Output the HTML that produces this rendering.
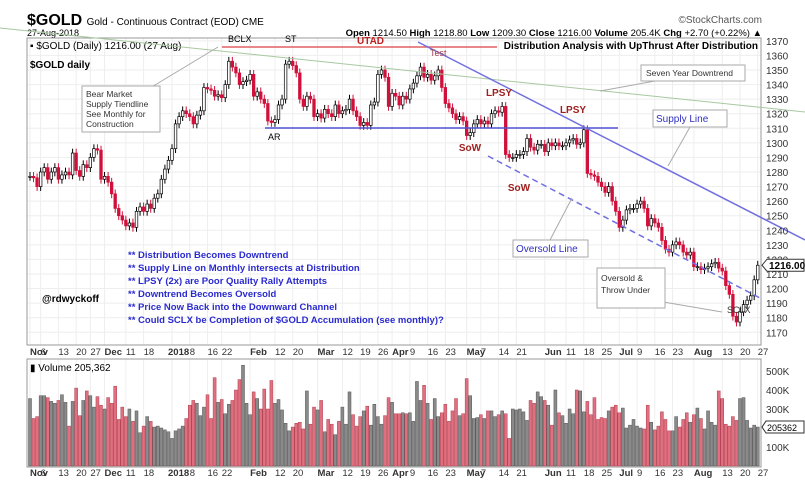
<!DOCTYPE html>
<html><head><meta charset="utf-8"><style>
html,body{margin:0;padding:0;background:#fff}
svg{display:block;font-family:"Liberation Sans",sans-serif}
</style></head><body>
<svg id="c" width="805" height="495" viewBox="0 0 805 495" xmlns="http://www.w3.org/2000/svg">
<rect width="805" height="495" fill="#fff"/>
<g>
<text x="27" y="25" font-size="16" font-weight="bold">$GOLD <tspan font-size="10" font-weight="normal">Gold - Continuous Contract (EOD) CME</tspan></text>
<text x="762" y="23" font-size="10" fill="#555" text-anchor="end">©StockCharts.com</text>
<text x="27" y="36" font-size="9">27-Aug-2018</text>
<text x="762" y="36" font-size="9.5" text-anchor="end"><tspan font-weight="bold">Open</tspan> 1214.50 <tspan font-weight="bold">High</tspan> 1218.80 <tspan font-weight="bold">Low</tspan> 1209.30 <tspan font-weight="bold">Close</tspan> 1216.00 <tspan font-weight="bold">Volume</tspan> 205.4K <tspan font-weight="bold">Chg</tspan> +2.70 (+0.22%) ▲</text>
</g>
<g id="grid"></g>
<g id="marks"></g>
<g id="ann">
<rect x="27" y="38" width="734" height="307" fill="none" stroke="#999"/>
<rect x="27" y="359" width="734" height="108" fill="none" stroke="#999"/>
<text x="30" y="49" font-size="10">▪ $GOLD (Daily) 1216.00 (27 Aug)</text>
<text x="30" y="68" font-size="10" font-weight="bold">$GOLD daily</text>
<text x="758" y="49" font-size="10" font-weight="bold" text-anchor="end">Distribution Analysis with UpThrust After Distribution</text>
<line x1="222" y1="47" x2="497" y2="47" stroke="#e06060" stroke-width="1.5"/>
<line x1="265" y1="128" x2="618" y2="128" stroke="#5050d0" stroke-width="1.5"/>
<line x1="0" y1="28" x2="805" y2="112" stroke="#a8c8a0" stroke-width="1"/>
<line x1="418" y1="42" x2="805" y2="240" stroke="#7070e0" stroke-width="1.5"/>
<line x1="488" y1="156" x2="760" y2="298" stroke="#7070e0" stroke-width="1.5" stroke-dasharray="6,4"/>
<text x="228" y="42" font-size="9">BCLX</text>
<text x="285" y="42" font-size="9">ST</text>
<text x="357" y="44" font-size="10" font-weight="bold" fill="#c02020">UTAD</text>
<text x="430" y="56" font-size="9" fill="#a04050">Test</text>
<text x="268" y="140" font-size="9">AR</text>
<g font-size="10" font-weight="bold" fill="#a02020">
<text x="499" y="96" text-anchor="middle">LPSY</text>
<text x="573" y="113" text-anchor="middle">LPSY</text>
<text x="470" y="151" text-anchor="middle">SoW</text>
<text x="519" y="191" text-anchor="middle">SoW</text>
</g>
<g stroke="#aaa" fill="none">
<polyline points="150,88 218,47"/>
<polyline points="655,81 600,91"/>
<polyline points="690,127 668,166"/>
<polyline points="550,240 572,198"/>
<polyline points="615,268 658,280"/>
<polyline points="640,298 722,312"/>
</g>
<g font-size="8.5" fill="#333">
<rect x="82" y="86" width="78" height="46" fill="#fff" stroke="#aaa"/>
<text x="86" y="97">Bear Market</text><text x="86" y="107">Supply Tiendline</text><text x="86" y="117">See Monthly for</text><text x="86" y="127">Construction</text>
<rect x="641" y="65" width="104" height="16" fill="#fff" stroke="#aaa"/>
<text x="646" y="76">Seven Year Downtrend</text>
<rect x="597" y="268" width="68" height="40" fill="#fff" stroke="#aaa"/>
<text x="601" y="281">Oversold &amp;</text><text x="601" y="293">Throw Under</text>
<text x="727" y="313" font-size="9">SCLX</text>
</g>
<g font-size="10" fill="#3030c0">
<rect x="653" y="110" width="74" height="17" fill="#fff" stroke="#aaa"/>
<text x="656" y="122">Supply Line</text>
<rect x="513" y="240" width="75" height="17" fill="#fff" stroke="#aaa"/>
<text x="516" y="252">Oversold Line</text>
</g>
<g font-size="9.5" font-weight="bold" fill="#2a2ad0">
<text x="128" y="258">** Distribution Becomes Downtrend</text>
<text x="128" y="271">** Supply Line on Monthly intersects at Distribution</text>
<text x="128" y="284">** LPSY (2x) are Poor Quality Rally Attempts</text>
<text x="128" y="297">** Downtrend Becomes Oversold</text>
<text x="128" y="310">** Price Now Back into the Downward Channel</text>
<text x="128" y="323">** Could SCLX be Completion of $GOLD Accumulation (see monthly)?</text>
</g>
<text x="42" y="302" font-size="10" font-weight="bold">@rdwyckoff</text>
<text x="30" y="371" font-size="10">▮ Volume 205,362</text>
</g>
<g id="axes"></g>
</svg>
<script>
const closes = [
1277,1276,1270,1280,1283,1275,1280,1283,1275,1278,1280,1278,1293,1281,1277,1285,1283,1290,1296,1295,1275,
1277,1273,1265,1255,1250,1247,1243,1245,1242,1253,1256,1253,1258,1255,1262,1265,1275,1282,1288,1296,
1313,1318,1322,1320,1318,1313,1319,1322,1338,1337,1336,1332,1333,1331,1340,1356,1352,1348,1340,1342,1343,
1347,1332,1335,1330,1327,1315,1314,1316,1326,1330,1354,1356,1353,1348,1330,1325,1332,1330,1318,
1320,1317,1323,1320,1318,1326,1320,1322,1323,1330,1322,1318,1312,1314,1312,1326,1328,1347,1350,1345,1325,
1334,1332,1326,1332,1330,1337,1341,1346,1352,1345,1347,1343,1346,1350,1338,1327,1324,1320,1316,1318,1315,
1305,1307,1313,1316,1313,1315,1313,1320,1322,1321,1325,1292,1290,1290,1292,1292,1294,1303,1297,1295,1299,1299,
1294,1300,1298,1300,1298,1298,1300,1302,1303,1299,1300,1309,1279,1278,1277,1273,1270,1266,1270,1260,1253,
1242,1247,1254,1255,1255,1258,1260,1255,1243,1248,1245,1242,1233,1227,1225,1230,1232,1230,1225,1223,1225,
1215,1215,1213,1214,1215,1217,1218,1214,1212,1202,1196,1181,1177,1184,1189,1192,1195,1206,1216];
const volumes = [
355,250,260,370,370,360,340,330,345,375,335,210,340,410,265,345,395,370,310,365,320,
300,360,330,420,245,310,260,300,235,290,175,210,260,235,205,210,200,190,180,145,
185,195,210,250,320,345,330,265,310,375,250,465,335,350,275,325,345,400,455,530,330,
270,390,355,300,405,300,450,330,350,295,225,185,205,225,230,195,395,220,310,
295,345,180,245,220,165,235,310,220,390,270,210,260,290,315,215,325,260,220,265,360,
335,275,275,280,275,280,235,445,345,425,330,245,355,260,280,325,235,290,355,265,275,
460,370,250,255,270,250,290,290,260,270,290,275,145,300,295,300,285,240,345,330,390,365,
345,320,215,400,280,265,225,300,275,400,395,285,340,270,360,245,255,250,290,310,320,
280,305,200,215,245,210,200,195,320,230,190,210,285,245,185,185,260,205,245,280,230,
270,305,250,195,290,230,215,395,355,220,210,260,240,355,360,240,200,215,205];
const priceTicks = [1170,1180,1190,1200,1210,1220,1230,1240,1250,1260,1270,1280,1290,1300,1310,1320,1330,1340,1350,1360,1370];
const volTicks = [100,200,300,400,500];
const volTickLabels = ["100K","","300K","400K","500K"];
const dateLabels = ["Nov","6","13","20","27","Dec","11","18","2018","8","16","22","Feb","12","20","Mar","12","19","26","Apr","9","16","23","May","7","14","21","Jun","11","18","25","Jul","9","16","23","Aug","13","20","27"];
const dateIdx = [0,3,8,13,17,21,27,32,40,45,50,54,62,69,74,81,88,93,98,102,107,112,117,123,127,132,137,145,151,156,161,166,171,176,181,187,195,200,205];
const dateBold = [1,0,0,0,0,1,0,0,1,0,0,0,1,0,0,1,0,0,0,1,0,0,0,1,0,0,0,1,0,0,0,1,0,0,0,1,0,0,0];

const NS="http://www.w3.org/2000/svg";
const xS=i=>30+i*3.55;
const yP=v=>70+(1350-v)*1.457;
const yV=v=>466-v*0.19;
function mk(tag,attrs,parent,txt){const e=document.createElementNS(NS,tag);for(const k in attrs)e.setAttribute(k,attrs[k]);if(txt!==undefined)e.textContent=txt;parent.appendChild(e);return e;}
const grid=document.getElementById('grid'),marks=document.getElementById('marks'),axes=document.getElementById('axes');
priceTicks.forEach(t=>{
  const l=mk('line',{x1:27,x2:761,y1:yP(t),y2:yP(t),stroke:'#eeeeee'},grid);
  
  
  const tx=mk('text',{x:766,y:yP(t)+4,'font-size':10,fill:'#333'},axes,String(t));
  
  
});
volTicks.forEach((t,k)=>{
  const tx=mk('text',{x:766,y:yV(t)+4,'font-size':10,fill:'#333'},axes,volTickLabels[k]);
  
  
});
dateLabels.forEach((d,k)=>{
  const x=xS(dateIdx[k]);
  const g=mk('line',{x1:x,x2:x,y1:38,y2:345,stroke:'#eeeeee'},grid);
  
  
  const g2=mk('line',{x1:x,x2:x,y1:359,y2:467,stroke:'#eeeeee'},grid);
  
  
  const lx=dateBold[k]&&d==='2018'?x-4:x;
  [355,476].forEach(yy=>{
    const t=mk('text',{x:lx,y:yy,'font-size':9.5,'font-weight':dateBold[k]?'bold':'normal',fill:'#333'},axes,d);
    
    
  });
});
closes.forEach((c,i)=>{
  const o=i>0?closes[i-1]:c;
  const up=c>=o;
  const x=xS(i);
  const hi=Math.max(o,c)+3, lo=Math.min(o,c)-3;
  const col=up?'#000':'#d0103a';
  const w=mk('line',{x1:x,x2:x,y1:yP(hi),y2:yP(lo),stroke:col,'stroke-width':1},marks);
  
  
  const top=yP(Math.max(o,c)),bot=yP(Math.min(o,c));
  const b=mk('rect',{x:x-1.3,y:top,width:2.6,height:Math.max(1,bot-top),fill:up?'#fff':'#d0103a',stroke:col,'stroke-width':0.7},marks);
  
  
  const v=volumes[i];
  const vb=mk('rect',{x:x-1.5,y:yV(v),width:3,height:466-yV(v),fill:up?'#8a8a8a':'#e07080',stroke:up?'#555':'#b04050','stroke-width':0.5},marks);
  
  
});
const lastC=closes[closes.length-1], lastV=volumes[volumes.length-1];
const pb=mk('path',{d:`M762 ${yP(lastC)} l5 -6 h37 v12 h-37 z`,fill:'#fff',stroke:'#333'},axes);


const pt=mk('text',{x:769,y:yP(lastC)+4,'font-size':10,'font-weight':'bold'},axes,lastC.toFixed(2));


const vbx=mk('path',{d:`M762 ${yV(lastV)} l4 -6 h38 v12 h-38 z`,fill:'#fff',stroke:'#333'},axes);


const vt=mk('text',{x:767,y:yV(lastV)+4,'font-size':9},axes,'205362');


</script>
</body></html>
